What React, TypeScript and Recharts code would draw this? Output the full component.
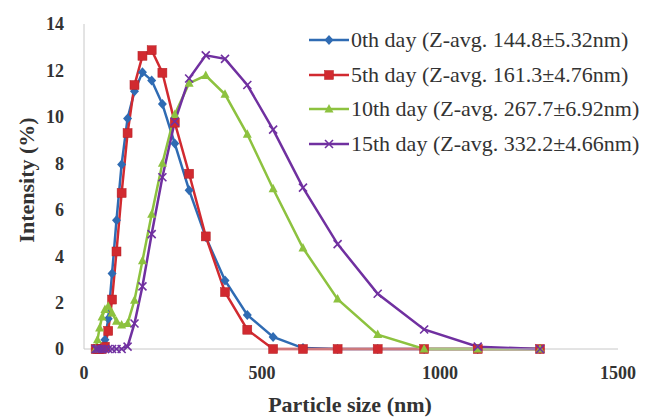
import { Legend, Line, LineChart, XAxis, YAxis } from "recharts";

// particle size bins (nm)
const SIZES = [
  32.67, 37.84, 43.82, 50.75, 58.77, 68.06, 78.82, 91.28, 105.7, 122.4, 141.8, 164.2, 190.1,
  220.2, 255.0, 295.3, 342.0, 396.1, 458.7, 531.2, 615.1, 712.4, 825.0, 955.4, 1106, 1281,
];

// intensity (%) per bin
const DAY0 = [
  0, 0, 0, 0, 0.4, 1.3, 3.25, 5.55, 7.95, 9.93, 11.1, 11.92, 11.57, 10.55, 8.85, 6.84, 4.82,
  2.95, 1.47, 0.52, 0.04, 0, 0, 0, 0, 0,
];
const DAY5 = [
  0, 0, 0, 0, 0.1, 0.78, 2.13, 4.2, 6.72, 9.3, 11.37, 12.63, 12.87, 11.9, 9.75, 7.55, 4.85,
  2.45, 0.83, 0, 0, 0, 0, 0, 0, 0,
];
const DAY10 = [
  0, 0.4, 0.9, 1.38, 1.7, 1.84, 1.55, 1.2, 1.03, 1.1, 2.1, 3.8, 5.8, 8.0, 10.1, 11.45, 11.78,
  10.97, 9.25, 6.9, 4.35, 2.15, 0.62, 0, 0, 0,
];
const DAY15 = [
  0, 0, 0, 0, 0, 0, 0, 0, 0, 0.1, 1.1, 2.7, 4.95, 7.4, 9.8, 11.65, 12.65, 12.5, 11.37, 9.45,
  6.95, 4.52, 2.38, 0.84, 0.1, 0,
];

const X_TICKS = [0, 500, 1000, 1500];
const Y_TICKS = [0, 2, 4, 6, 8, 10, 12, 14];

const SERIES = [
  { key: "d0", name: "0th day (Z-avg. 144.8±5.32nm)", values: DAY0, color: "#2f6bb3", shape: "diamond" },
  { key: "d5", name: "5th day (Z-avg. 161.3±4.76nm)", values: DAY5, color: "#d12a30", shape: "square" },
  { key: "d10", name: "10th day (Z-avg. 267.7±6.92nm)", values: DAY10, color: "#8dc23f", shape: "triangle" },
  { key: "d15", name: "15th day (Z-avg. 332.2±4.66nm)", values: DAY15, color: "#7030a0", shape: "x" },
];

const rows = SIZES.map((size, i) => {
  const row: Record<string, number> = { size };
  SERIES.forEach((s) => {
    row[s.key] = s.values[i];
  });
  return row;
});

const FONT = "Liberation Serif, serif";

function Marker({ cx, cy, shape, color }: { cx: number; cy: number; shape: string; color: string }) {
  if (cx == null || cy == null) return null;
  if (shape === "diamond") {
    return <polygon points={`${cx},${cy - 5} ${cx + 4.5},${cy} ${cx},${cy + 5} ${cx - 4.5},${cy}`} fill={color} />;
  }
  if (shape === "square") {
    return <rect x={cx - 4.5} y={cy - 4.5} width={9} height={9} fill={color} stroke="#b52025" strokeWidth={0.5} />;
  }
  if (shape === "triangle") {
    return <polygon points={`${cx},${cy - 5} ${cx + 4.5},${cy + 3.5} ${cx - 4.5},${cy + 3.5}`} fill={color} />;
  }
  return (
    <g stroke={color} strokeWidth={1.6}>
      <line x1={cx - 4} y1={cy - 4} x2={cx + 4} y2={cy + 4} />
      <line x1={cx - 4} y1={cy + 4} x2={cx + 4} y2={cy - 4} />
    </g>
  );
}

function LegendContent() {
  return (
    <div style={{ fontFamily: FONT, fontSize: 22, color: "#333" }}>
      {SERIES.map((s) => (
        <div key={s.key} style={{ display: "flex", alignItems: "center", height: 34.5 }}>
          <svg width={42} height={14} style={{ marginRight: 1 }}>
            <line x1={1} y1={7} x2={41} y2={7} stroke={s.color} strokeWidth={2.5} />
            <Marker cx={21} cy={7} shape={s.shape} color={s.color} />
          </svg>
          <span style={{ whiteSpace: "nowrap" }}>{s.name}</span>
        </div>
      ))}
    </div>
  );
}

const tickStyle = { fontFamily: FONT, fontSize: 18, fontWeight: 700, fill: "#333" };

export default function App() {
  return (
    <div style={{ position: "absolute", left: 0, top: 0, width: 648, height: 419, background: "#fff" }}>
      <LineChart width={648} height={419} data={rows} margin={{ top: 24, right: 30, bottom: 40, left: 0 }}>
        <XAxis
          dataKey="size"
          type="number"
          domain={[0, 1500]}
          ticks={X_TICKS}
          height={30}
          tickLine={false}
          tickSize={0}
          tickMargin={17}
          axisLine={{ stroke: "#c8c8c8", strokeWidth: 1 }}
          tick={tickStyle}
          interval={0}
        />
        <YAxis
          type="number"
          domain={[0, 14]}
          ticks={Y_TICKS}
          width={84}
          tickLine={false}
          tickSize={0}
          tickMargin={20}
          axisLine={{ stroke: "#c8c8c8", strokeWidth: 1 }}
          tick={tickStyle}
          interval={0}
        />
        <Legend
          layout="vertical"
          align="center"
          verticalAlign="middle"
          content={() => <LegendContent />}
          wrapperStyle={{ top: 23, left: 308, width: 340 }}
        />
        {SERIES.map((s) => (
          <Line
            key={s.key}
            dataKey={s.key}
            name={s.name}
            type="linear"
            stroke={s.color}
            strokeWidth={2.5}
            isAnimationActive={false}
            dot={(p: any) => <Marker key={`${s.key}-${p.index}`} cx={p.cx} cy={p.cy} shape={s.shape} color={s.color} />}
            activeDot={false}
          />
        ))}
      </LineChart>
      <div
        style={{
          position: "absolute",
          left: 0,
          width: 648,
          top: 392,
          paddingLeft: 52,
          boxSizing: "border-box",
          textAlign: "center",
          fontFamily: FONT,
          fontSize: 22,
          fontWeight: 700,
          color: "#333",
        }}
      >
        Particle size (nm)
      </div>
      <div
        style={{
          position: "absolute",
          left: 27,
          top: 180,
          transform: "translate(-50%, -50%) rotate(-90deg)",
          whiteSpace: "nowrap",
          fontFamily: FONT,
          fontSize: 22,
          fontWeight: 700,
          color: "#333",
        }}
      >
        Intensity (%)
      </div>
    </div>
  );
}
